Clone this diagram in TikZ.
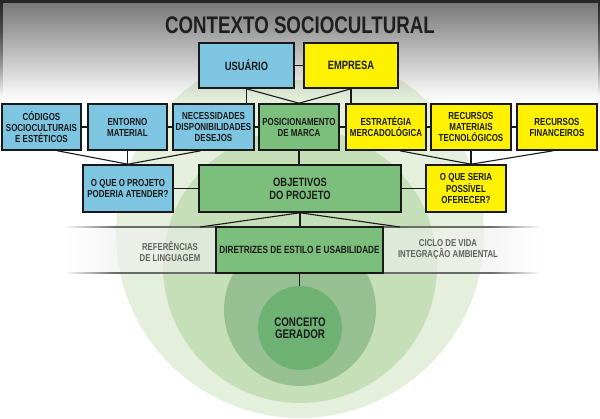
\documentclass[tikz,border=0pt]{standalone}
\usepackage{fontspec}
\newfontfamily\nar{Liberation Sans}[FakeStretch=0.78]
\usetikzlibrary{fadings,calc}
\definecolor{cblue}{HTML}{7EC5E1}
\definecolor{cyel}{HTML}{FFF200}
\definecolor{cgrn}{HTML}{7CBF7C}
\definecolor{cone}{HTML}{E4EFDC}
\definecolor{ctwo}{HTML}{C5DFB8}
\definecolor{cthree}{HTML}{96C091}
\definecolor{cfour}{HTML}{6EB273}
\definecolor{txt}{HTML}{1A1A1A}
\tikzfading[name=fadeD, top color=transparent!0, middle color=transparent!30, bottom color=transparent!100]
\tikzfading[name=fadeR, left color=transparent!0, right color=transparent!100]
\tikzfading[name=fadeL, left color=transparent!100, right color=transparent!0]
\begin{document}
\begin{tikzpicture}[x=1pt,y=-1pt,
  box/.style={draw=black!90, line width=1.6pt, align=center, text=txt,
    font=\nar\bfseries\fontsize{10.2}{11}\selectfont, inner sep=0pt,
    minimum height=46pt, minimum width=80pt},
  bluebox/.style={box, fill=cblue},
  yelbox/.style={box, fill=cyel},
  grnbox/.style={box, fill=cgrn},
  link/.style={draw=black!90, line width=1.1pt},
  lab/.style={align=center, text=black!62, inner sep=0pt,
    font=\nar\bfseries\fontsize{10}{11}\selectfont},
  bandfill/.style={fill=black!6, opacity=0.6},
  bandline/.style={fill=black!58}]
\useasboundingbox (0,0) rectangle (600,418);
\fill[white] (0,0) rectangle (600,418);
% circles
\fill[cone] (300,234) circle[radius=184pt];
\fill[ctwo] (300,266) circle[radius=137pt];
\fill[cthree] (300,310) circle[radius=76pt];
% header
\fill[white] (0,0) rectangle (600,80);
\fill[black!54, path fading=fadeD] (0,0) rectangle (600,100);
\fill[black!85] (0,0) rectangle (600,2.5);
\fill[black!85, path fading=fadeD] (0,0) rectangle (2.5,96);
\fill[black!85, path fading=fadeD] (597.5,0) rectangle (600,96);
\node[font=\nar\bfseries\fontsize{24}{26}\selectfont, text=black!88, inner sep=0pt] (tit) at (300,25) {CONTEXTO SOCIOCULTURAL};
% band
\fill[bandfill] (115,227) rectangle (490,273);
\fill[bandfill, path fading=fadeL] (65,227) rectangle (115,273);
\fill[bandfill, path fading=fadeR] (490,227) rectangle (540,273);
\fill[bandline] (115,226) rectangle (490,228);
\fill[bandline, path fading=fadeL] (65,226) rectangle (115,228);
\fill[bandline, path fading=fadeR] (490,226) rectangle (540,228);
\fill[bandline] (115,272) rectangle (490,274);
\fill[bandline, path fading=fadeL] (65,272) rectangle (115,274);
\fill[bandline, path fading=fadeR] (490,272) rectangle (540,274);
\coordinate (bl) at (200,227);
\coordinate (br) at (400,227);
% nodes
\node[bluebox, minimum width=95pt, minimum height=45pt, font=\nar\bfseries\fontsize{12}{13}\selectfont] (usu) at (246.5,65.5) {USUÁRIO};
\node[yelbox, minimum width=94pt, minimum height=45pt, font=\nar\bfseries\fontsize{12}{13}\selectfont] (emp) at (351,65.5) {EMPRESA};
\node[bluebox, minimum width=79pt] (cod) at (41.5,127) {CÓDIGOS\\SOCIOCULTURAIS\\E ESTÉTICOS};
\node[bluebox, minimum width=79pt] (ent) at (127.5,127) {ENTORNO\\MATERIAL};
\node[bluebox, minimum width=81pt] (nec) at (213.5,127) {NECESSIDADES\\DISPONIBILIDADES\\DESEJOS};
\node[grnbox] (pos) at (299,127) {POSICIONAMENTO\\DE MARCA};
\node[yelbox] (est) at (386,127) {ESTRATÉGIA\\MERCADOLÓGICA};
\node[yelbox] (rmt) at (471,127) {RECURSOS\\MATERIAIS\\TECNOLÓGICOS};
\node[yelbox] (rfi) at (557,127) {RECURSOS\\FINANCEIROS};
\node[bluebox, minimum width=90pt, minimum height=47pt] (oqa) at (128,188.5) {O QUE O PROJETO\\PODERIA ATENDER?};
\node[grnbox, minimum width=202pt, minimum height=47pt, font=\nar\bfseries\fontsize{12}{13}\selectfont] (obj) at (300,188.5) {OBJETIVOS\\DO PROJETO};
\node[yelbox, minimum width=80pt, minimum height=47pt] (oqb) at (466,188.5) {O QUE SERIA\\POSSÍVEL\\OFERECER?};
\node[grnbox, minimum width=167pt, font=\nar\bfseries\fontsize{10.5}{12}\selectfont] (dir) at (299.5,250) {DIRETRIZES DE ESTILO E USABILIDADE};
\node[circle, fill=cfour, minimum size=84pt, inner sep=0pt, align=center, text=txt,
  font=\nar\bfseries\fontsize{12.5}{12.5}\selectfont] (conc) at (300,328) {CONCEITO\\GERADOR};
\node[lab] (ref) at (170,251.5) {REFERÊNCIAS\\DE LINGUAGEM};
\node[lab] (cic) at (448,250) {CICLO DE VIDA\\INTEGRAÇÃO AMBIENTAL};
% connectors
\draw[link] (usu) -- (emp);
\draw[link] (usu.south) -- (usu.south |- nec.north);
\draw[link] (usu.south) -- (pos.north);
\draw[link] (emp.south) -- (emp.south |- est.north);
\draw[link] (emp.south) -- (pos.north);
\draw[link] (cod) -- (ent);
\draw[link] (ent) -- (nec);
\draw[link] (nec) -- (pos);
\draw[link] (pos) -- (est);
\draw[link] (est) -- (rmt);
\draw[link] (rmt) -- (rfi);
\draw[link] (ent.south) -- (ent.south |- oqa.north);
\draw[link] ($(cod.south)+(16,0)$) -- (oqa.north);
\draw[link] ($(nec.south)+(-13,0)$) -- (oqa.north);
\draw[link] (pos.south) -- (pos.south |- obj.north);
\coordinate (cv) at (rmt.south |- oqb.north);
\draw[link] (rmt.south) -- (cv);
\draw[link] ($(est.south)+(14,0)$) -- (cv);
\draw[link] ($(rfi.south)+(-4,0)$) -- (cv);
\draw[link] (oqa) -- (obj);
\draw[link] (obj) -- (oqb);
\draw[link] (obj.south) -- (obj.south |- dir.north);
\draw[link] (obj.south) -- (bl);
\draw[link] (obj.south) -- (br);
\draw[link] (dir.south) -- (dir.south |- conc.north);
\end{tikzpicture}
\end{document}
